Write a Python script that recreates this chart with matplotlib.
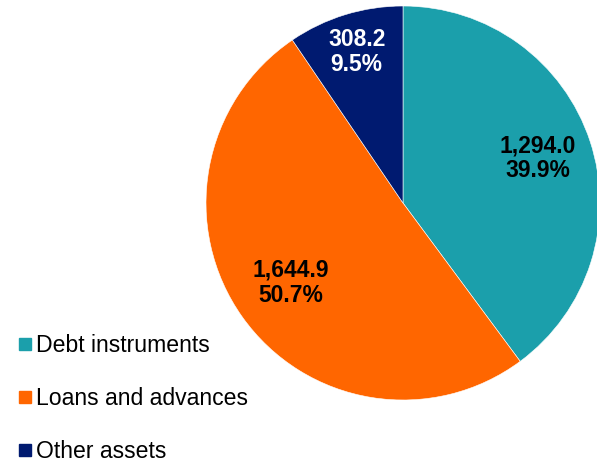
import numpy as np
import matplotlib.pyplot as plt
from matplotlib.lines import Line2D

categories = ['Debt instruments', 'Loans and advances', 'Other assets']
amounts = [1294.0, 1644.9, 308.2]
shares = [39.9, 50.7, 9.5]
colors = ['#1B9FAB', '#FF6600', '#001A70']
text_colors = ['black', 'black', 'white']
label_dist = [0.72, 0.70, 0.80]

plt.rcParams['font.family'] = ['Liberation Sans', 'DejaVu Sans']

fig = plt.figure(figsize=(5.97, 4.63), dpi=100)
ax = fig.add_axes([206 / 597, 63 / 463, 394 / 597, 394 / 463])

wedges, _ = ax.pie(shares, colors=colors, startangle=90, counterclock=False,
                   radius=1, wedgeprops=dict(linewidth=0.4, edgecolor='white'))
ax.set_xlim(-1, 1)
ax.set_ylim(-1, 1)
ax.set_aspect('equal')

for w, amt, pct, tc, d in zip(wedges, amounts, shares, text_colors, label_dist):
    ang = np.deg2rad((w.theta1 + w.theta2) / 2)
    ax.text(d * np.cos(ang), d * np.sin(ang), f'{amt:,.1f}\n{pct:.1f}%',
            ha='center', va='center', fontsize=16.5, fontweight='bold',
            color=tc, linespacing=1.1)

handles = [Line2D([], [], marker='s', linestyle='none', markersize=8,
                  markerfacecolor=c, markeredgecolor=c) for c in colors]
fig.legend(handles, categories, loc='center left', bbox_to_anchor=(0.033, 0.14),
           frameon=False, fontsize=16.6, labelspacing=1.3, handlelength=0.5,
           handletextpad=0.2, borderpad=0, borderaxespad=0)

fig.savefig('out.png', dpi=100)
